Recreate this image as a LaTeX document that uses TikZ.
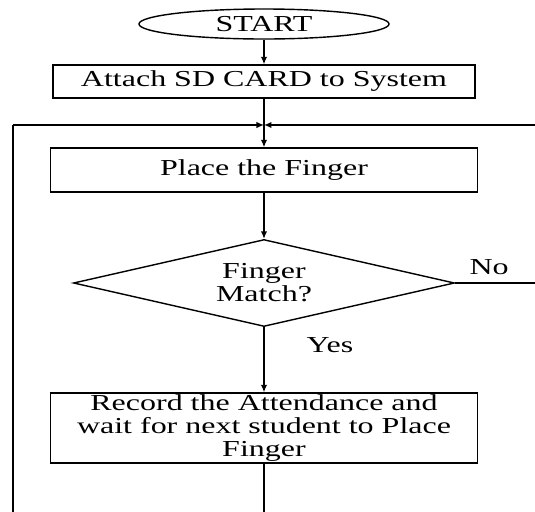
\documentclass[tikz,border=0pt]{standalone}
\usepackage{fontspec}
\setmainfont[FakeStretch=1.4]{Liberation Serif}
\usetikzlibrary{shapes,arrows,arrows.meta,positioning}
\tikzset{
      terminal/.style = {ellipse, draw, minimum width=5cm, minimum height=0.6cm, inner sep=0pt},
      process/.style  = {rectangle, draw, align=center, minimum width=8.54cm, minimum height=0.88cm, inner sep=0pt},
      decision/.style = {diamond, draw, align=center, aspect=4.4, minimum width=7.62cm, minimum height=1.74cm, inner sep=0pt},
      flowedge/.style = {black, ->, >={Latex[length=1.5mm,width=1.3mm]}},
      plainedge/.style = {black},
    }

\begin{document}
\begin{tikzpicture}[node distance=2cm,on grid,auto,thick,font=\fontsize{13}{13}\selectfont]
        \useasboundingbox (-5.28,-9.76) rectangle (5.42,0.48);
        \node [terminal] (start) {START};
        \node [process] (attach) [below=1.15cm of start, minimum width=8.44cm, minimum height=0.66cm] {Attach SD CARD to System};
        \node [process] (place) [below=1.77cm of attach] {Place the Finger};
        \node [decision] (match) [below=2.26cm of place] {Finger\\Match?};
        \node [process] (record) [below=2.9cm of match, minimum height=1.4cm] {Record the Attendance and\\wait for next student to Place\\Finger};
        \node (no) at ([xshift=0.68cm,yshift=0.32cm]match.east) {No};
        \node (yes) at ([xshift=1.32cm,yshift=-0.36cm]match.south) {Yes};
        % loop back points (cut at the picture edges)
        \coordinate (loopleft) at (-5.02,-2.02);
        \coordinate (loopbottom) at (-5.02,-9.76);
        \coordinate (loopright) at (5.42,-2.02);
        \coordinate (join) at (attach.south |- loopleft);
        \coordinate (noend) at (match.east -| loopright);
        \coordinate (recordend) at (record.south |- loopbottom);
        \path[flowedge]
        (start) edge (attach)
        (attach) edge (place)
        (place) edge (match)
        (match) edge (record)
        (loopleft) edge (join)
        (loopright) edge (join);
        \path[plainedge]
        (match.east) edge (noend)
        (record.south) edge (recordend)
        (loopbottom) edge (loopleft);
    \end{tikzpicture}
\end{document}
